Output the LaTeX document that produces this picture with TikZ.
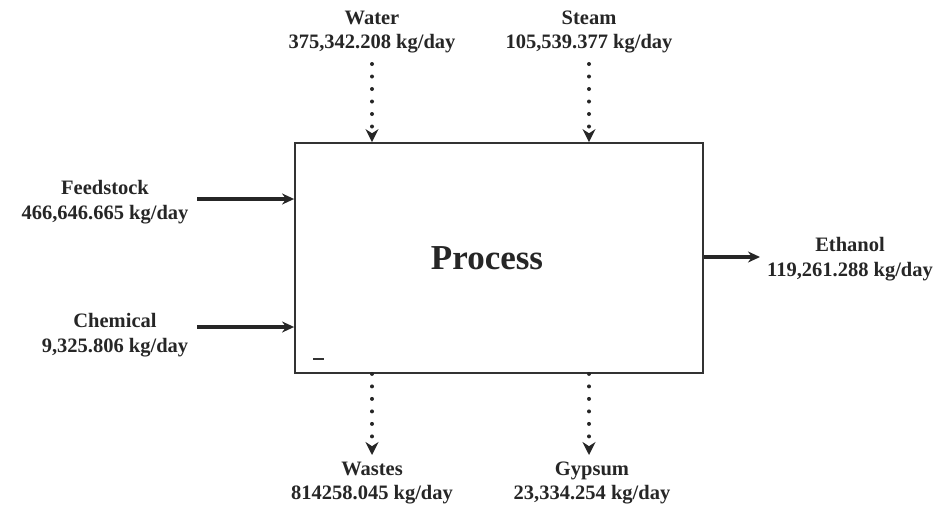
\documentclass[tikz,border=0pt]{standalone}
\usepackage{fontspec}
\setmainfont{Liberation Serif}
\usetikzlibrary{arrows.meta,calc}
\begin{document}
\begin{tikzpicture}[x=1pt,y=1pt,
  lbl/.style={font=\fontsize{20.5}{24.5}\selectfont\bfseries, align=center, inner sep=0pt, text=black!85},
  flow/.style={line width=3.2pt, black!85, -{Stealth[length=12pt,width=11pt]}},
  dflow/.style={line width=4pt, black!85, dash pattern=on 0pt off 12.5pt, line cap=round, -{Stealth[length=13pt,width=13pt,line cap=butt]}},
  procbox/.style={draw=black!80, line width=1.8pt, minimum width=408pt, minimum height=230pt, inner sep=0pt}]
\useasboundingbox (0,0) rectangle (937,-515);
\node[procbox] (box) at (499,-258) {};
\node[font=\fontsize{35}{40}\selectfont\bfseries, text=black!85] (proc) at (487,-258) {Process};
% top
\node[lbl] (water) at (372,-32) {Water\\375,342.208 kg/day};
\node[lbl] (steam) at (589,-32) {Steam\\105,539.377 kg/day};
\coordinate (ws) at (372,-64);
\coordinate (ss) at (589,-64);
\draw[dflow] (ws) -- (ws |- box.north);
\draw[dflow] (ss) -- (ss |- box.north);
% left
\node[lbl] (feed) at (105,-202) {Feedstock\\466,646.665 kg/day};
\node[lbl] (chem) at (115,-335) {Chemical\\9,325.806 kg/day};
\coordinate (fs) at (197,-199);
\coordinate (cs) at (197,-327);
\draw[flow] (fs) -- (fs -| box.west);
\draw[flow] (cs) -- (cs -| box.west);
% right
\node[lbl] (eth) at (850,-259) {Ethanol\\119,261.288 kg/day};
\coordinate (ee) at (760,-257);
\draw[flow] (ee -| box.east) -- (ee);
% bottom
\node[lbl] (waste) at (372,-483) {Wastes\\814258.045 kg/day};
\node[lbl] (gyp) at (592,-483) {Gypsum\\23,334.254 kg/day};
\coordinate (we) at (372,-455);
\coordinate (ge) at (589,-455);
\draw[dflow] (we |- box.south) -- (we);
\draw[dflow] (ge |- box.south) -- (ge);
% small mark
\coordinate (m1) at (313,-359);
\coordinate (m2) at (324,-359);
\draw[line width=2.2pt, black!80] (m1) -- (m2);
\end{tikzpicture}
\end{document}
